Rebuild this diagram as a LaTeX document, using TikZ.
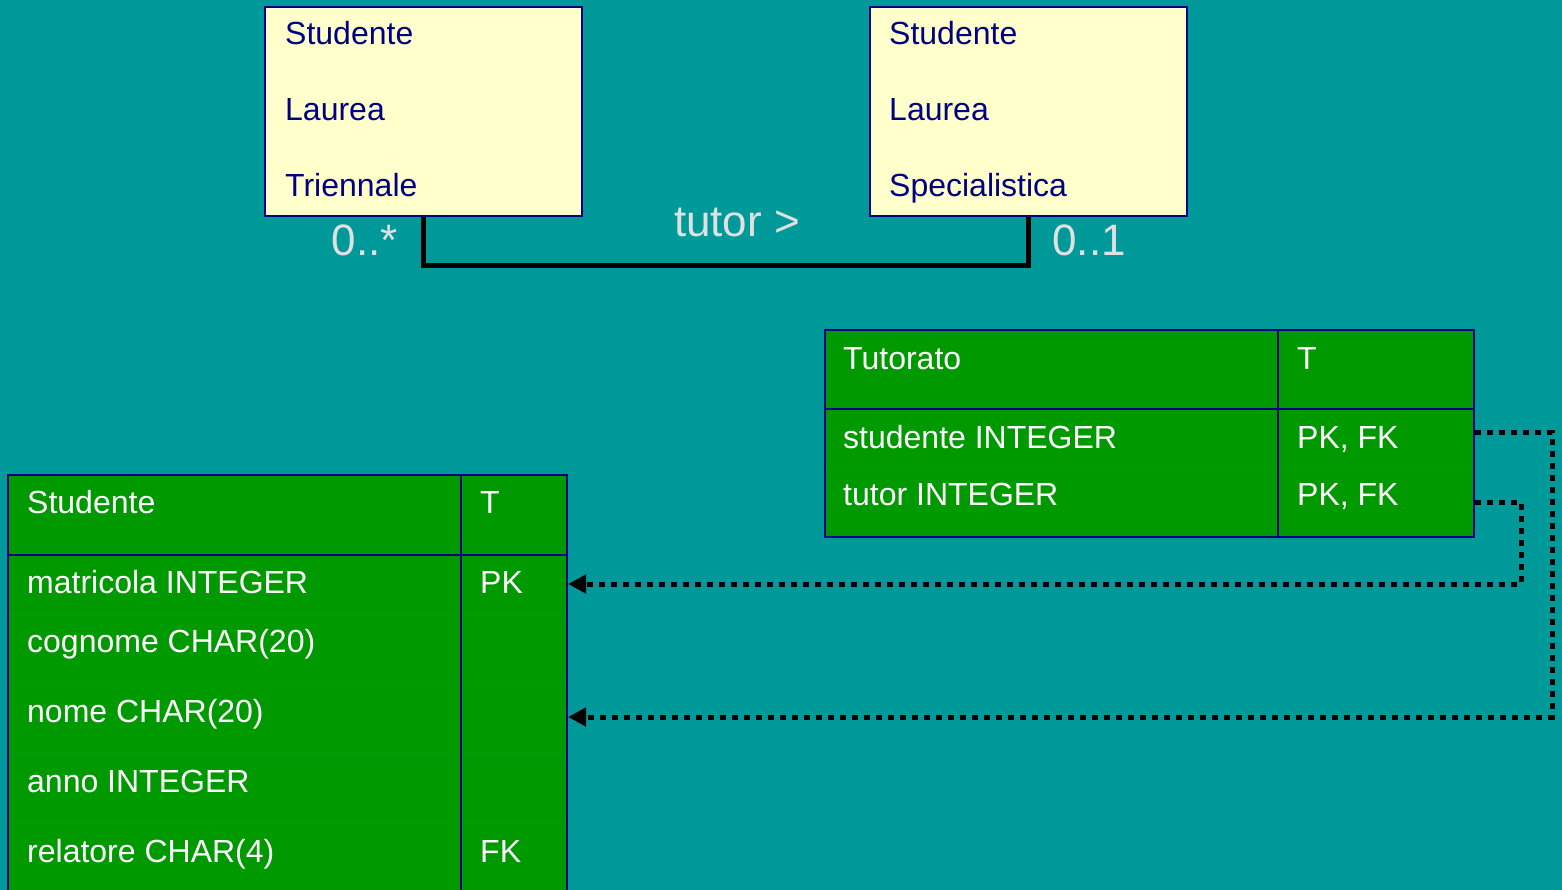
\documentclass[tikz,border=0pt]{standalone}
\usepackage{fontspec}
\setmainfont{Liberation Sans}
\usetikzlibrary{arrows.meta}
\definecolor{bg}{HTML}{009999}
\definecolor{tgreen}{HTML}{009900}
\definecolor{navy}{HTML}{000080}
\definecolor{ylw}{HTML}{FFFFCC}
\definecolor{lgrey}{HTML}{E0E0E0}
\definecolor{faint}{HTML}{009822}
\begin{document}
\begin{tikzpicture}[x=1pt,y=-1pt,
  ybox/.style={draw=navy,line width=2.5pt,fill=ylw,minimum width=317pt,minimum height=209pt,inner sep=0pt},
  ytext/.style={anchor=base west,inner sep=0pt,text=navy,font=\fontsize{32}{38}\selectfont},
  wtext/.style={anchor=base west,inner sep=0pt,text=white,font=\fontsize{32}{38}\selectfont},
  mult/.style={anchor=base,inner sep=0pt,text=lgrey,font=\fontsize{44}{50}\selectfont},
  tbl/.style={draw=navy,line width=2.5pt,fill=tgreen,inner sep=0pt},
  tline/.style={draw=navy,line width=2.5pt},
  fline/.style={draw=faint,line width=0.8pt},
  assoc/.style={draw=black,line width=5pt},
  fk/.style={draw=black,line width=5pt,dash pattern=on 6pt off 6pt,-{Triangle[length=18pt,width=18pt]}}
]
\clip (0,0) rectangle (1562,890);
\fill[bg] (0,0) rectangle (1562,890);

% UML classes
\node[ybox] (lb) at (423.5,111.5) {};
\node[ybox] (rb) at (1028.5,111.5) {};
\node[ytext] (lb1) at (285,45) {Studente};
\node[ytext] (lb2) at (285,121) {Laurea};
\node[ytext] (lb3) at (285,197) {Triennale};
\node[ytext] (rb1) at (889,45) {Studente};
\node[ytext] (rb2) at (889,121) {Laurea};
\node[ytext] (rb3) at (889,197) {Specialistica};
\draw[assoc] (lb.south) -- ++(0,48) -| (rb.south);
\node[mult] (ml) at (365,256) {0..*};
\node[mult] (mr) at (1089,256) {0..1};
\node[mult] (tut) at (737,237) {tutor >};

% Tutorato table
\node[tbl,minimum width=649pt,minimum height=207pt] (tt) at (1149.5,433.5) {};
\draw[fline] (826,467) -- (1473,467);
\draw[tline] (825,409) -- (1474,409);
\draw[tline] (1278,330) -- (1278,537);
\node[wtext] (tt1) at (843,369) {Tutorato};
\node[wtext] (tt2) at (1297,369) {T};
\node[wtext] (tt3) at (843,448) {studente INTEGER};
\node[wtext] (tt4) at (1297,448) {PK, FK};
\node[wtext] (tt5) at (843,505) {tutor INTEGER};
\node[wtext] (tt6) at (1297,505) {PK, FK};

% Studente table
\node[tbl,minimum width=559pt,minimum height=445pt] (st) at (287.5,697.5) {};
\foreach \yy in {613,683,753,823} \draw[fline] (9,\yy) -- (566,\yy);
\draw[tline] (8,555) -- (567,555);
\draw[tline] (461,475) -- (461,920);
\node[wtext] (st1) at (27,513) {Studente};
\node[wtext] (st2) at (480,513) {T};
\node[wtext] (st3) at (27,593) {matricola INTEGER};
\node[wtext] (st4) at (480,593) {PK};
\node[wtext] (st5) at (27,652) {cognome CHAR(20)};
\node[wtext] (st6) at (27,722) {nome CHAR(20)};
\node[wtext] (st7) at (27,792) {anno INTEGER};
\node[wtext] (st8) at (27,862) {relatore CHAR(4)};
\node[wtext] (st9) at (480,862) {FK};

% foreign key connectors
\coordinate (tstud) at (1475,432);
\coordinate (ttut) at (1475,502);
\coordinate (smat) at (568,584);
\coordinate (snome) at (568,717);
\draw[fk] (tstud) -- (1552,432) |- (snome);
\draw[fk] (ttut) -- (1521,502) |- (smat);
\end{tikzpicture}
\end{document}
